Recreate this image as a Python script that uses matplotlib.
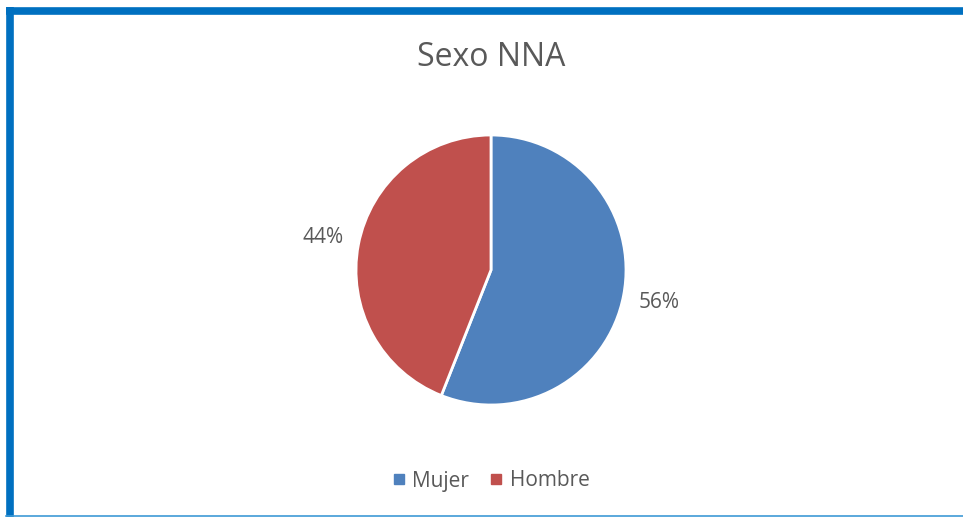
import matplotlib.pyplot as plt
from matplotlib.lines import Line2D

# Datos
categorias = ["Mujer", "Hombre"]
valores = [56, 44]
colores = ["#4F81BD", "#C0504D"]
titulo = "Sexo NNA"

plt.rcParams['font.family'] = ['Open Sans', 'DejaVu Sans']
texto_color = "#595959"

W, H = 963, 517
fig = plt.figure(figsize=(W / 100, H / 100), dpi=100)
fig.patch.set_facecolor("white")

# Eje del pastel: centro (491, 270) px desde arriba, radio 135 px
r = 135
cx, cy = 491, H - 270
ax = fig.add_axes([(cx - r) / W, (cy - r) / H, 2 * r / W, 2 * r / H])

wedges, _, autotexts = ax.pie(
    valores, colors=colores, startangle=90, counterclock=False,
    autopct="%1.0f%%", pctdistance=1.27,
    wedgeprops=dict(edgecolor="white", linewidth=2),
    textprops=dict(color=texto_color, fontsize=15),
)
for t in autotexts:
    t.set_clip_on(False)
ax.set_xlim(-1, 1)
ax.set_ylim(-1, 1)
ax.set_aspect("equal")
ax.axis("off")

fig.text(cx / W, (H - 57) / H, titulo, ha="center", va="center",
         fontsize=23, color=texto_color)

handles = [Line2D([], [], marker="s", linestyle="none", markersize=7,
                  markerfacecolor=c, markeredgecolor=c) for c in colores]
fig.legend(handles, categorias, loc="center", bbox_to_anchor=(cx / W, 36 / H),
           ncol=2, frameon=False, fontsize=15, handlelength=0.6,
           handletextpad=0.35, columnspacing=1.0, labelcolor=texto_color)

# Borde azul
borde = "#0070C0"
fig.add_artist(Line2D([9.5 / W, 9.5 / W], [0, (H - 7) / H], color=borde,
                      linewidth=5.5, transform=fig.transFigure,
                      solid_capstyle="butt"))
fig.add_artist(Line2D([6 / W, 1], [(H - 10.5) / H, (H - 10.5) / H], color=borde,
                      linewidth=5.5, transform=fig.transFigure, solid_capstyle="butt"))
fig.add_artist(Line2D([6 / W, 1], [1.0 / H, 1.0 / H], color="#3E9AD6",
                      linewidth=1.2, transform=fig.transFigure))

plt.savefig("out.png", dpi=100, facecolor="white")
